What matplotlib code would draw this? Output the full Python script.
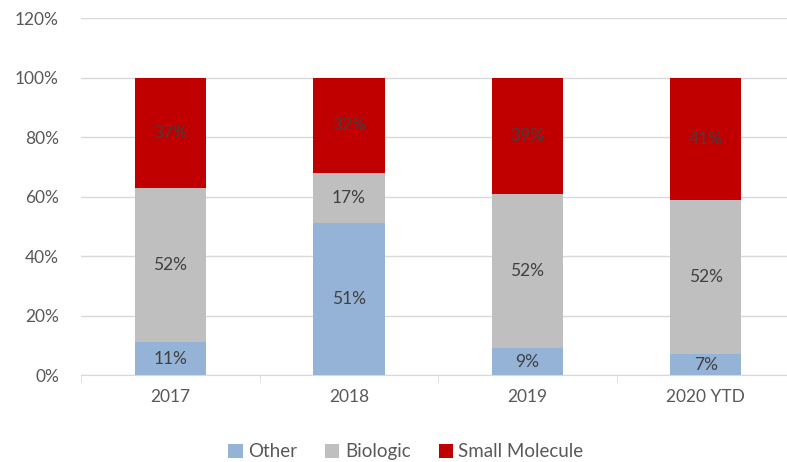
import matplotlib.pyplot as plt
import numpy as np

years = ["2017", "2018", "2019", "2020 YTD"]
other = [11, 51, 9, 7]
biologic = [52, 17, 52, 52]
small_molecule = [37, 32, 39, 41]

series = [("Other", other, "#95b3d7"),
          ("Biologic", biologic, "#bfbfbf"),
          ("Small Molecule", small_molecule, "#c00000")]

plt.rcParams['font.family'] = ['Lato', 'DejaVu Sans']

fig = plt.figure(figsize=(7.87, 4.62), dpi=100)
ax = fig.add_axes([0.1032, 0.188, 0.907, 0.773])

x = np.arange(len(years))
bottom = np.zeros(len(years))
for name, vals, col in series:
    vals = np.array(vals, dtype=float)
    ax.bar(x, vals, 0.4, bottom=bottom, color=col, label=name, zorder=3)
    for xi, b, v in zip(x, bottom, vals):
        ax.text(xi, b + v / 2, "%d%%" % v, ha="center", va="center",
                fontsize=12.5, color="#404040", zorder=4)
    bottom += vals

ax.set_xlim(-0.5, len(years) - 0.5)
ax.set_ylim(0, 120)
ax.set_yticks(range(0, 121, 20))
ax.set_yticklabels(["%d%%" % v for v in range(0, 121, 20)])
ax.yaxis.grid(True, color="#d9d9d9", linewidth=1, zorder=0)
ax.set_xticks(x)
ax.set_xticklabels(years)
ax.set_xticks(np.arange(-0.5, len(years)), minor=True)
ax.tick_params(axis="x", which="major", length=0, pad=10, labelsize=12.5, colors="#595959")
ax.tick_params(axis="x", which="minor", length=5, color="#d9d9d9", direction="out")
ax.tick_params(axis="y", length=0, pad=16, labelsize=12.5, colors="#595959")
for s in ["top", "right", "left"]:
    ax.spines[s].set_visible(False)
ax.spines["bottom"].set_color("#d9d9d9")

ax.legend(loc="center", bbox_to_anchor=(0.455, -0.215), ncol=3, frameon=False,
          fontsize=13.5, handlelength=0.75, handleheight=0.75, handletextpad=0.3,
          columnspacing=1.5, labelcolor="#595959")

fig.savefig("out.png", dpi=100)
